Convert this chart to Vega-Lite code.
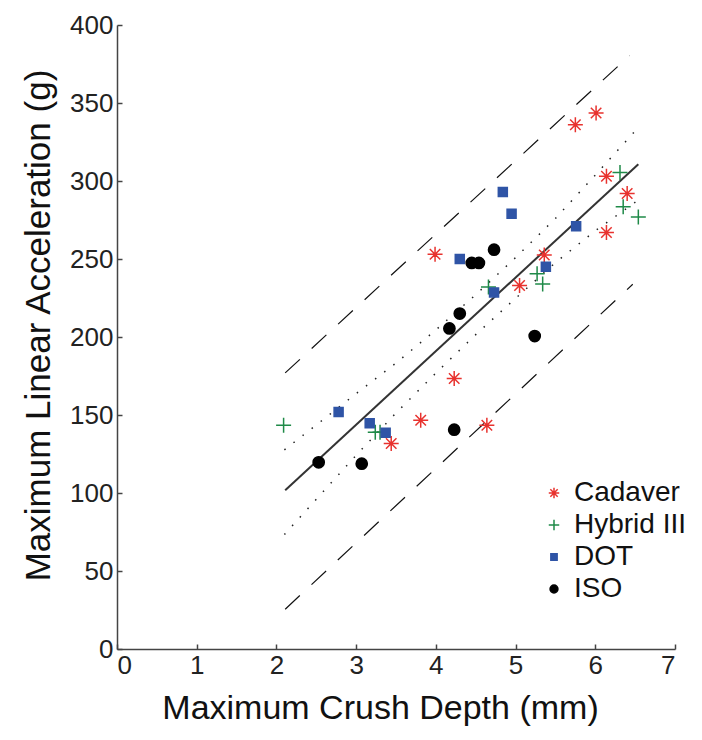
{
  "$schema": "https://vega.github.io/schema/vega-lite/v6.json",
  "autosize": "none",
  "width": 558,
  "height": 624,
  "padding": {"left": 117, "top": 25, "right": 27, "bottom": 91},
  "background": "white",
  "config": {
    "view": {"stroke": null},
    "font": "Liberation Sans",
    "axis": {
      "grid": false,
      "domainColor": "#444",
      "domainWidth": 1.5,
      "tickColor": "#444",
      "tickWidth": 1.5,
      "tickSize": -5,
      "labelFont": "Liberation Sans",
      "labelFontSize": 26,
      "labelColor": "#222",
      "titleFont": "Liberation Sans",
      "titleFontWeight": "normal",
      "titleColor": "#111"
    }
  },
  "datasets": {
    "points": [
      {"group": "Cadaver", "depth": 3.99, "acc": 253},
      {"group": "Cadaver", "depth": 5.75, "acc": 336},
      {"group": "Cadaver", "depth": 6.01, "acc": 343.6},
      {"group": "Cadaver", "depth": 6.14, "acc": 303},
      {"group": "Cadaver", "depth": 6.40, "acc": 292},
      {"group": "Cadaver", "depth": 6.14, "acc": 267},
      {"group": "Cadaver", "depth": 5.36, "acc": 252.6},
      {"group": "Cadaver", "depth": 5.05, "acc": 233},
      {"group": "Cadaver", "depth": 4.23, "acc": 173.4},
      {"group": "Cadaver", "depth": 3.81, "acc": 146.6},
      {"group": "Cadaver", "depth": 3.44, "acc": 131.7},
      {"group": "Cadaver", "depth": 4.64, "acc": 143.4},
      {"group": "Hybrid III", "depth": 2.09, "acc": 143.4},
      {"group": "Hybrid III", "depth": 6.31, "acc": 305.5},
      {"group": "Hybrid III", "depth": 6.35, "acc": 283.5},
      {"group": "Hybrid III", "depth": 6.54, "acc": 277},
      {"group": "Hybrid III", "depth": 4.66, "acc": 232},
      {"group": "Hybrid III", "depth": 5.27, "acc": 240.5},
      {"group": "Hybrid III", "depth": 5.34, "acc": 234},
      {"group": "Hybrid III", "depth": 3.24, "acc": 139},
      {"group": "Hybrid III", "depth": 3.30, "acc": 139},
      {"group": "DOT", "depth": 2.78, "acc": 152},
      {"group": "DOT", "depth": 3.17, "acc": 144.7},
      {"group": "DOT", "depth": 3.37, "acc": 138.7},
      {"group": "DOT", "depth": 4.84, "acc": 293},
      {"group": "DOT", "depth": 4.95, "acc": 279},
      {"group": "DOT", "depth": 4.30, "acc": 250},
      {"group": "DOT", "depth": 5.76, "acc": 271},
      {"group": "DOT", "depth": 4.73, "acc": 228.6},
      {"group": "DOT", "depth": 5.38, "acc": 245},
      {"group": "ISO", "depth": 2.53, "acc": 119.7},
      {"group": "ISO", "depth": 3.07, "acc": 118.8},
      {"group": "ISO", "depth": 4.23, "acc": 140.6},
      {"group": "ISO", "depth": 5.24, "acc": 200.6},
      {"group": "ISO", "depth": 4.17, "acc": 205.5},
      {"group": "ISO", "depth": 4.30, "acc": 215},
      {"group": "ISO", "depth": 4.45, "acc": 247.5},
      {"group": "ISO", "depth": 4.54, "acc": 247.5},
      {"group": "ISO", "depth": 4.73, "acc": 256}
    ],
    "lines": [
      {"line": "fit", "depth": 2.11, "acc": 101.7},
      {"line": "fit", "depth": 6.54, "acc": 310.8},
      {"line": "predUpper", "depth": 2.11, "acc": 177},
      {"line": "predUpper", "depth": 6.43, "acc": 380.4},
      {"line": "predLower", "depth": 2.11, "acc": 25.5},
      {"line": "predLower", "depth": 6.47, "acc": 233.8},
      {"line": "confUpper", "depth": 2.1, "acc": 127.7},
      {"line": "confUpper", "depth": 2.5, "acc": 143.6},
      {"line": "confUpper", "depth": 3.0, "acc": 163.7},
      {"line": "confUpper", "depth": 3.5, "acc": 183.3},
      {"line": "confUpper", "depth": 4.0, "acc": 204.5},
      {"line": "confUpper", "depth": 4.5, "acc": 227.1},
      {"line": "confUpper", "depth": 5.0, "acc": 250.9},
      {"line": "confUpper", "depth": 5.5, "acc": 276},
      {"line": "confUpper", "depth": 6.0, "acc": 303.8},
      {"line": "confUpper", "depth": 6.54, "acc": 334.3},
      {"line": "confLower", "depth": 2.1, "acc": 73.4},
      {"line": "confLower", "depth": 2.5, "acc": 96},
      {"line": "confLower", "depth": 3.0, "acc": 124.2},
      {"line": "confLower", "depth": 3.5, "acc": 151.3},
      {"line": "confLower", "depth": 4.0, "acc": 176.9},
      {"line": "confLower", "depth": 4.5, "acc": 201.5},
      {"line": "confLower", "depth": 5.0, "acc": 224.8},
      {"line": "confLower", "depth": 5.5, "acc": 247.7},
      {"line": "confLower", "depth": 6.0, "acc": 268.1},
      {"line": "confLower", "depth": 6.54, "acc": 287.8}
    ]
  },
  "encoding": {
    "x": {
      "field": "depth", "type": "quantitative",
      "scale": {"domain": [0, 7], "nice": false, "zero": false},
      "axis": {"values": [0, 1, 2, 3, 4, 5, 6, 7], "title": "Maximum Crush Depth (mm)", "titleFontSize": 34, "labelPadding": 8, "titlePadding": 13, "titleX": 263}
    },
    "y": {
      "field": "acc", "type": "quantitative",
      "scale": {"domain": [0, 400], "nice": false},
      "axis": {"values": [0, 50, 100, 150, 200, 250, 300, 350, 400], "title": "Maximum Linear Acceleration (g)", "titleFontSize": 35, "labelPadding": 9, "titlePadding": 13, "titleY": 300}
    }
  },
  "layer": [
    {
      "data": {"name": "lines"},
      "transform": [{"filter": "datum.line === 'fit'"}],
      "mark": {"type": "line", "color": "#333", "strokeWidth": 2}
    },
    {
      "data": {"name": "lines"},
      "transform": [{"filter": "datum.line === 'predUpper' || datum.line === 'predLower'"}],
      "mark": {"type": "line", "color": "#111", "strokeWidth": 1.2, "strokeDash": [20, 16]},
      "encoding": {"detail": {"field": "line"}}
    },
    {
      "data": {"name": "lines"},
      "transform": [{"filter": "datum.line === 'confUpper' || datum.line === 'confLower'"}],
      "mark": {"type": "line", "color": "#222", "strokeWidth": 1.5, "strokeDash": [1.5, 10]},
      "encoding": {"detail": {"field": "line"}}
    },
    {
      "data": {"name": "points"},
      "mark": {"type": "point", "filled": true, "size": 225, "strokeWidth": 1.5, "opacity": 1},
      "encoding": {
        "shape": {
          "field": "group", "type": "nominal",
          "scale": {
            "domain": ["Cadaver", "Hybrid III", "DOT", "ISO"],
            "range": [
              "M-1,0L1,0M0,-1L0,1M-0.7,-0.7L0.7,0.7M-0.7,0.7L0.7,-0.7",
              "M-1,0L1,0M0,-1L0,1",
              "M-0.6,-0.6L0.6,-0.6L0.6,0.6L-0.6,0.6Z",
              "M0.75,0A0.75,0.75,0,1,1,-0.75,0A0.75,0.75,0,1,1,0.75,0Z"
            ]
          },
          "legend": {
            "title": null,
            "orient": "none",
            "legendX": 423,
            "legendY": 454,
            "labelFont": "Liberation Sans",
            "labelFontSize": 28,
            "labelColor": "#111",
            "symbolSize": 110,
            "symbolStrokeWidth": 1.5,
            "labelOffset": 6,
            "rowPadding": 4,
            "padding": 0
          }
        },
        "fill": {
          "field": "group", "type": "nominal",
          "scale": {"domain": ["Cadaver", "Hybrid III", "DOT", "ISO"], "range": ["transparent", "transparent", "#2f54a6", "#000000"]}
        },
        "stroke": {
          "field": "group", "type": "nominal",
          "scale": {"domain": ["Cadaver", "Hybrid III", "DOT", "ISO"], "range": ["#e8322e", "#1f8a48", "#2f54a6", "#000000"]}
        }
      }
    },
    {
      "mark": {"type": "text", "align": "left", "baseline": "alphabetic", "fontSize": 26, "font": "Liberation Sans", "color": "#111"},
      "encoding": {
        "x": {"datum": 2.0},
        "y": {"datum": 340},
        "text": {"value": "R² = 0.72"}
      }
    }
  ]
}
